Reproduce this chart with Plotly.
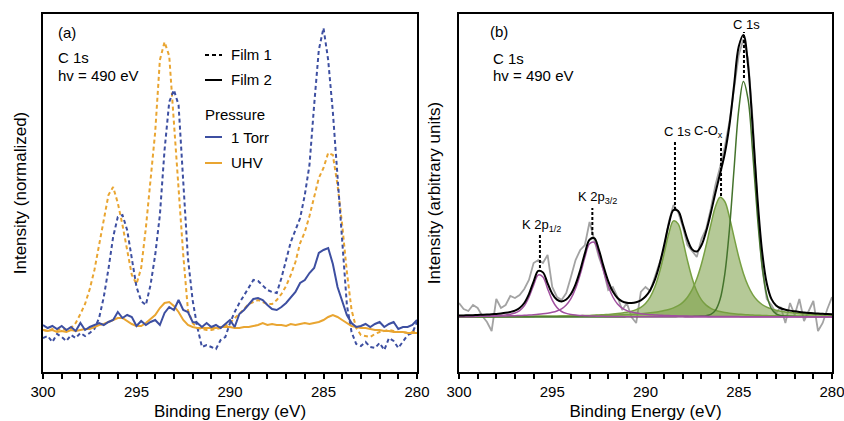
import numpy as np
import plotly.graph_objects as go

# ---------------- data ----------------
energy = np.linspace(300, 280, 81)  # binding energy grid (eV), 0.25 eV step

# Panel (a): C 1s spectra (arbitrary normalized units)
film1_1torr = [-8, -6, -12, -4, -7, -11, -5, -8, -3, -6,
               -3, 1, 12, 33, 61, 93, 113, 115, 100, 72,
               43, 29, 25, 45, 75, 115, 180, 228, 240, 225,
               145, 72, 30, 3, -17, -15, -17, -19, -10, -7,
               7, 18, 27, 35, 43, 50, 49, 44, 40, 38,
               37, 52, 70, 88, 100, 112, 135, 165, 225, 280,
               302, 270, 218, 152, 85, 25, -2, -14, -16, -12,
               -17, -18, -13, -20, -8, -11, -18, -12, -5, -3, 8]
film1_uhv = [0, -1, 1, 0, 1, 0, 2, 7, 16, 26,
             41, 60, 85, 110, 135, 143, 127, 105, 78, 55,
             46, 62, 102, 150, 198, 270, 288, 274, 204, 142,
             75, 20, 7, 2, 1, 0, 0, 1, 2, 4,
             7, 12, 16, 21, 26, 28, 30, 28, 26, 26,
             30, 36, 44, 55, 68, 87, 98, 114, 134, 152,
             162, 177, 175, 145, 105, 58, 20, 2, -5, -6,
             -7, -4, -2, -1, 0, -1, -2, -2, -3, -2, 0]
film2_1torr = [5, 2, 4, 1, 4, 0, 3, -1, 7, 0,
               3, 5, 7, 5, 8, 10, 18, 12, 15, 13,
               4, 9, 5, 8, 10, 5, 17, 23, 20, 30,
               20, 18, 8, 7, 3, 7, 3, 5, 2, 6,
               10, 3, 16, 20, 26, 31, 32, 30, 25, 21,
               20, 23, 27, 32, 38, 47, 50, 57, 62, 77,
               80, 82, 66, 43, 29, 15, 7, 3, 4, 6,
               3, 6, 8, 3, 6, 8, 1, 3, 3, 5, 10]
film2_uhv = [0, -1, 0, -2, -1, -2, 0, -1, 0, 1,
             1, 3, 5, 6, 8, 10, 12, 12, 9, 6,
             4, 4, 7, 11, 15, 22, 27, 28, 24, 18,
             10, 5, 3, 2, 2, 2, 2, 2, 3, 3,
             3, 2, 2, 3, 3, 4, 5, 7, 5, 6,
             5, 5, 4, 6, 5, 6, 7, 6, 7, 8,
             10, 13, 15, 13, 10, 7, 4, 3, 2, 2,
             1, 0, 0, -1, -1, -2, -2, -2, -3, -3, -3]

# Panel (b): measured spectrum and fitted components (arbitrary units)
measured = [14, 8, 6, 12, 9, 1, -5, -14, 18, 9,
            12, 21, 19, 22, 28, 37, 54, 57, 54, 62,
            30, 20, 17, 24, 40, 57, 67, 72, 95, 78,
            60, 47, 27, 30, 20, 7, 14, 0, -6, 25,
            30, 26, 40, 52, 68, 95, 112, 105, 90, 72,
            66, 60, 78, 88, 108, 132, 150, 170, 195, 228,
            262, 278, 258, 196, 112, 50, 18, 12, 4, 10,
            -6, 14, 2, 18, -4, 6, 16, -14, -6, 8, 20]
k2p12 = [0.41, 0.46, 0.52, 0.59, 0.68, 0.79, 0.93, 1.11, 1.35, 1.67,
         2.12, 2.81, 4.0, 6.37, 11.1, 19.7, 31.9, 42.0, 40.0, 28.3,
         16.9, 9.5, 5.5, 3.6, 2.58, 1.97, 1.57, 1.28, 1.06, 0.89,
         0.76, 0.66, 0.57, 0.50, 0.44, 0.40, 0.35, 0.32, 0.29, 0.26,
         0.24, 0.22, 0.20, 0.19, 0.17, 0.16, 0.15, 0.14, 0.13, 0.12,
         0.12, 0.11, 0.10, 0.10, 0.09, 0.09, 0.08, 0.08, 0.08, 0.07,
         0.07, 0.07, 0.06, 0.06, 0.06, 0.06, 0.05, 0.05, 0.05, 0.05,
         0.05, 0.04, 0.04, 0.04, 0.04, 0.04, 0.04, 0.04, 0.03, 0.03, 0.03]
k2p32 = [0.47, 0.50, 0.53, 0.58, 0.63, 0.68, 0.74, 0.81, 0.89, 0.98,
         1.08, 1.20, 1.35, 1.52, 1.73, 1.98, 2.29, 2.68, 3.17, 3.83,
         4.73, 6.06, 8.2, 11.9, 18.3, 28.4, 42.7, 59.6, 73.2, 74.7,
         62.8, 46.0, 30.9, 20.0, 13.0, 8.8, 6.4, 4.95, 3.98, 3.29,
         2.77, 2.37, 2.04, 1.78, 1.56, 1.38, 1.23, 1.10, 1.0, 0.90,
         0.82, 0.75, 0.69, 0.63, 0.59, 0.54, 0.51, 0.47, 0.44, 0.41,
         0.39, 0.36, 0.34, 0.32, 0.30, 0.29, 0.27, 0.26, 0.25, 0.24,
         0.22, 0.21, 0.20, 0.19, 0.19, 0.18, 0.17, 0.16, 0.16, 0.15, 0.15]
c1s_cox_a = [0.26, 0.27, 0.28, 0.30, 0.31, 0.33, 0.34, 0.36, 0.38, 0.40,
             0.42, 0.45, 0.47, 0.50, 0.53, 0.56, 0.60, 0.65, 0.69, 0.74,
             0.80, 0.86, 0.93, 1.01, 1.10, 1.20, 1.32, 1.46, 1.62, 1.80,
             2.03, 2.29, 2.61, 2.99, 3.47, 4.06, 4.83, 5.88, 7.36, 9.67,
             13.5, 19.8, 29.9, 44.6, 63.6, 83.5, 96.1, 93.1, 76.6, 56.4,
             38.8, 25.7, 17.1, 11.9, 8.71, 6.76, 5.46, 4.53, 3.83, 3.28,
             2.85, 2.49, 2.19, 1.94, 1.73, 1.56, 1.41, 1.28, 1.16, 1.07,
             0.98, 0.90, 0.84, 0.78, 0.72, 0.67, 0.63, 0.59, 0.55, 0.52, 0.49]
c1s_cox_b = [0.33, 0.34, 0.35, 0.37, 0.38, 0.40, 0.41, 0.43, 0.44, 0.46,
             0.48, 0.51, 0.53, 0.55, 0.58, 0.61, 0.64, 0.67, 0.71, 0.74,
             0.78, 0.83, 0.88, 0.93, 0.99, 1.05, 1.12, 1.20, 1.28, 1.38,
             1.48, 1.60, 1.73, 1.88, 2.05, 2.24, 2.46, 2.71, 3.01, 3.35,
             3.76, 4.24, 4.81, 5.52, 6.40, 7.55, 9.10, 11.3, 14.6, 19.7,
             27.3, 38.2, 53.0, 71.5, 92.0, 110.3, 119.7, 115.5, 99.9, 79.6,
             60.0, 43.6, 31.2, 22.4, 16.4, 12.5, 9.89, 8.11, 6.83, 5.86,
             5.08, 4.45, 3.94, 3.51, 3.14, 2.83, 2.56, 2.33, 2.12, 1.95, 1.79]
c1s_main = [0.03, 0.03, 0.03, 0.03, 0.03, 0.03, 0.03, 0.04, 0.04, 0.04,
            0.04, 0.04, 0.04, 0.05, 0.05, 0.05, 0.05, 0.06, 0.06, 0.06,
            0.07, 0.07, 0.07, 0.08, 0.08, 0.08, 0.09, 0.09, 0.10, 0.10,
            0.09, 0.09, 0.10, 0.11, 0.12, 0.12, 0.13, 0.14, 0.15, 0.16,
            0.17, 0.19, 0.21, 0.23, 0.26, 0.30, 0.34, 0.39, 0.45, 0.52,
            0.61, 0.73, 0.94, 1.36, 2.62, 6.6, 17.7, 42.7, 87.5, 148.5,
            207.1, 235.6, 217.7, 163.8, 101.1, 51.5, 22.1, 8.4, 3.2, 1.53,
            1.0, 0.76, 0.64, 0.54, 0.46, 0.40, 0.35, 0.31, 0.27, 0.24, 0.22]

# Peak label positions (panel b)
label_energy = [295.66, 292.85, 288.42, 285.95, 284.72]
label_line_low = [49, 82, 107, 121, 239]
label_line_high = [83, 109, 176, 175, 285]

tick_values = [300, 295, 290, 285, 280]
tick_labels = ["300", "295", "290", "285", "280"]

# ---------------- styling ----------------
FONT = "Liberation Sans, Arial, sans-serif"
BLUE = "#3d4fa1"
ORANGE = "#e9a531"
PURPLE = "#a0509f"
GREEN = "#78a043"
GREEN_DARK = "#44732c"
GREEN_FILL = "rgba(120,156,66,0.55)"
GRAY = "#a3a3a3"
DASH = "4px,3px"

envelope = (np.array(k2p12) + np.array(k2p32) + np.array(c1s_cox_a)
            + np.array(c1s_cox_b) + np.array(c1s_main))

fig = go.Figure()

# Panel (a)
fig.add_trace(go.Scatter(x=energy, y=film1_uhv, mode="lines", xaxis="x", yaxis="y",
                         line=dict(color=ORANGE, width=2, dash=DASH)))
fig.add_trace(go.Scatter(x=energy, y=film1_1torr, mode="lines", xaxis="x", yaxis="y",
                         line=dict(color=BLUE, width=2, dash=DASH)))
fig.add_trace(go.Scatter(x=energy, y=film2_uhv, mode="lines", xaxis="x", yaxis="y",
                         line=dict(color=ORANGE, width=2)))
fig.add_trace(go.Scatter(x=energy, y=film2_1torr, mode="lines", xaxis="x", yaxis="y",
                         line=dict(color=BLUE, width=2)))

# Panel (b)
fig.add_trace(go.Scatter(x=energy, y=measured, mode="lines", xaxis="x2", yaxis="y2",
                         line=dict(color=GRAY, width=1.8)))
for comp in (c1s_cox_a, c1s_cox_b):
    fig.add_trace(go.Scatter(x=energy, y=comp, mode="lines", xaxis="x2", yaxis="y2",
                             fill="tozeroy", fillcolor=GREEN_FILL,
                             line=dict(color=GREEN, width=1.5, shape="spline")))
fig.add_trace(go.Scatter(x=energy, y=c1s_main, mode="lines", xaxis="x2", yaxis="y2",
                         line=dict(color=GREEN_DARK, width=1.5, shape="spline")))
for comp in (k2p12, k2p32):
    fig.add_trace(go.Scatter(x=energy, y=comp, mode="lines", xaxis="x2", yaxis="y2",
                             line=dict(color=PURPLE, width=1.5, shape="spline")))
fig.add_trace(go.Scatter(x=energy, y=envelope, mode="lines", xaxis="x2", yaxis="y2",
                         line=dict(color="black", width=2, shape="spline")))

W, H = 844, 421
def px(x):
    return x / W
def py(y):
    return 1 - y / H

common_x = dict(range=[300, 280], tickmode="array", tickvals=tick_values, ticktext=tick_labels,
                ticks="outside", ticklen=5, tickwidth=1.5, tickcolor="black",
                minor=dict(ticks="outside", ticklen=5, tickwidth=1.5, tickcolor="black",
                           tickmode="linear", tick0=280, dtick=1, showgrid=False),
                ticklabeloverflow="allow",
                showline=True, linecolor="black", linewidth=1.5, mirror=True,
                showgrid=False, zeroline=False, automargin=False,
                tickfont=dict(family=FONT, size=15, color="black"))
common_y = dict(showticklabels=False, ticks="", showline=True, linecolor="black",
                linewidth=1.5, mirror=True, showgrid=False, zeroline=False, automargin=False)

fig.update_layout(
    width=W, height=H, margin=dict(l=0, r=0, t=0, b=0),
    template="none", showlegend=False,
    paper_bgcolor="white", plot_bgcolor="white",
    font=dict(family=FONT, size=15, color="black"),
    xaxis=dict(domain=[px(43), px(417)], anchor="y",
               title=dict(text="Binding Energy (eV)", font=dict(size=17), standoff=8), **common_x),
    yaxis=dict(domain=[py(372), py(14)], anchor="x", range=[-42, 316],
               title=dict(text="Intensity (normalized)", font=dict(size=17), standoff=10), **common_y),
    xaxis2=dict(domain=[px(459), px(832)], anchor="y2",
                title=dict(text="Binding Energy (eV)", font=dict(size=17), standoff=8), **common_x),
    yaxis2=dict(domain=[py(372), py(14)], anchor="x2", range=[-55, 303],
                title=dict(text="Intensity (arbitrary units)", font=dict(size=17), standoff=12), **common_y),
)

annotations = []
def paper_text(text, x, y, size=15, xanchor="left"):
    annotations.append(dict(text=text, x=px(x), y=py(y), xref="paper", yref="paper",
                            xanchor=xanchor, yanchor="middle", showarrow=False,
                            font=dict(family=FONT, size=size, color="black")))

paper_text("(a)", 56, 32)
paper_text("C 1s", 56, 57.5)
paper_text("hv = 490 eV", 56, 75.5)
paper_text("(b)", 488, 31)
paper_text("C 1s", 491, 58)
paper_text("hv = 490 eV", 491, 75)

# legend (panel a)
paper_text("Film 1", 229, 55)
paper_text("Film 2", 229, 80)
paper_text("Pressure", 203, 114)
paper_text("1 Torr", 229, 137)
paper_text("UHV", 229, 163)

shapes = []
legend_rows = [(55, "black", DASH), (80, "black", "solid"), (137, BLUE, "solid"), (163, ORANGE, "solid")]
for yy, col, dsh in legend_rows:
    shapes.append(dict(type="line", xref="paper", yref="paper", x0=px(205), x1=px(222),
                       y0=py(yy), y1=py(yy), line=dict(color=col, width=2, dash=dsh)))

# peak labels (panel b)
peak_labels = [("K 2p<sub>1/2</sub>", 295.6, 92), ("K 2p<sub>3/2</sub>", 292.6, 120),
               ("C 1s", 288.3, 186), ("C-O<sub>x</sub>", 286.6, 186), ("C 1s", 284.58, 293)]
for text, xe, yv in peak_labels:
    annotations.append(dict(text=text, x=xe, y=yv, xref="x2", yref="y2", xanchor="center",
                            yanchor="middle", showarrow=False,
                            font=dict(family=FONT, size=13, color="black")))
for xe, lo, hi in zip(label_energy, label_line_low, label_line_high):
    shapes.append(dict(type="line", xref="x2", yref="y2", x0=xe, x1=xe, y0=lo, y1=hi,
                       line=dict(color="black", width=2, dash="3px,2px")))

fig.update_layout(annotations=annotations, shapes=shapes)
fig.write_html("out.html")
